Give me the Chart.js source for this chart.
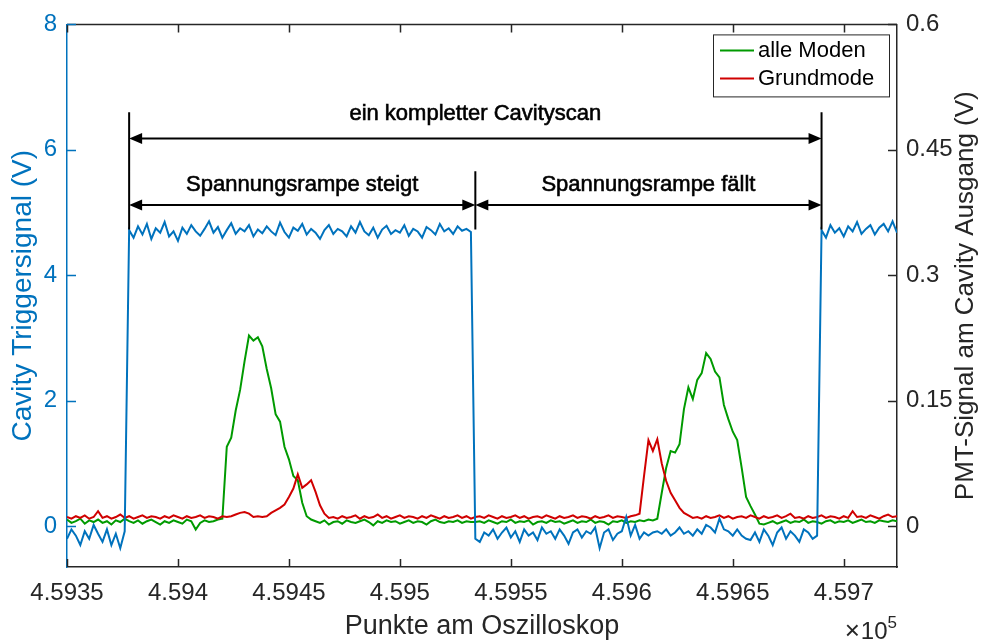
<!DOCTYPE html>
<html>
<head>
<meta charset="utf-8">
<script src="https://cdn.jsdelivr.net/npm/chart.js@4.4.0/dist/chart.umd.min.js"></script>
<style>
html,body{margin:0;padding:0;background:#fff;}
</style>
</head>
<body>
<canvas id="grafica" width="987" height="643"></canvas>
<script>

const FUENTE = '"Liberation Sans", Arial, Helvetica, sans-serif';

/* Abtastpunkte des Oszilloskops */
const xStart = 459350;
const xStep = 2;
const xMin = 459350;
const xMax = 459724;

const xTicks = [459350,459400,459450,459500,459550,459600,459650,459700];
const yLeftTicks = [0,2,4,6,8];
const yRightTicks = [0,0.15,0.3,0.45,0.6];

/* Cavity Triggersignal (V), linke Achse */
const trigger = [
-0.2,-0.05,-0.15,-0.3,-0.08,-0.2,0.02,-0.12,-0.25,-0.05,-0.3,-0.12,-0.35,-0.08,
4.72,4.6,4.78,4.65,4.82,4.58,4.75,4.68,4.85,4.62,
4.7,4.55,4.76,4.66,4.8,4.7,4.63,4.74,4.86,4.68,
4.77,4.6,4.72,4.83,4.66,4.75,4.7,4.8,4.62,4.73,
4.67,4.78,4.7,4.64,4.84,4.69,4.6,4.76,4.71,4.82,
4.65,4.74,4.68,4.58,4.72,4.8,4.66,4.74,4.7,4.62,
4.78,4.68,4.85,4.7,4.64,4.76,4.6,4.73,4.79,4.66,
4.72,4.68,4.8,4.63,4.74,4.7,4.6,4.77,4.72,4.65,
4.82,4.7,4.75,4.66,4.78,4.71,4.74,4.69,
-0.2,-0.25,-0.1,-0.15,-0.05,-0.2,-0.1,-0.02,-0.18,-0.08,
-0.25,-0.05,-0.15,-0.1,-0.22,-0.02,-0.12,-0.08,-0.2,-0.05,
-0.15,-0.28,-0.1,-0.05,-0.18,-0.08,-0.12,-0.02,-0.35,-0.1,
-0.05,-0.22,-0.12,-0.08,0.15,-0.15,0.02,-0.2,-0.1,-0.15,
-0.1,-0.08,-0.12,-0.05,-0.15,-0.1,-0.02,-0.12,-0.08,-0.15,
-0.05,-0.12,0.02,-0.02,-0.1,0.12,-0.05,-0.08,-0.15,-0.05,
-0.15,-0.2,-0.22,-0.1,-0.25,-0.05,-0.15,-0.3,-0.1,-0.02,
-0.2,-0.08,-0.15,-0.25,-0.05,-0.1,-0.2,-0.15,
4.72,4.6,4.8,4.68,4.75,4.62,4.78,4.7,4.85,4.66,
4.74,4.8,4.65,4.76,4.82,4.7,4.86,4.68
];

/* PMT-Signal alle Moden (V), rechte Achse */
const alleModen = [
0.008,0.004,0.006,0.009,0.003,0.007,0.005,0.008,0.004,0.006,
0.002,0.007,0.005,0.009,0.006,0.004,0.007,0.003,0.006,0.008,
0.005,0.002,0.006,0.004,0.007,0.005,0.003,0.008,0.006,-0.004,
0.004,0.007,0.005,0.006,0.008,0.009,
0.095,0.106,0.138,0.163,0.197,0.228,0.222,0.226,0.215,0.188,
0.165,0.134,0.125,0.095,0.08,0.06,0.055,0.028,0.012,0.008,
0.006,0.004,0.007,0.002,0.005,0.006,0.003,0.007,0.005,0.004,
0.006,0.008,0.005,0.001,0.006,0.004,0.007,0.005,0.006,0.003,
0.005,0.007,0.004,0.006,0.005,0.002,0.006,0.008,0.005,0.004,
0.006,0.005,0.007,0.004,0.006,0.005,
0.005,0.006,0.004,0.007,0.005,0.003,0.006,0.005,0.008,0.004,
0.006,0.005,0.007,0.002,0.005,0.006,0.004,0.007,0.005,0.006,
0.003,0.005,0.007,0.004,0.006,0.005,0.008,0.004,0.006,0.005,
0.002,0.006,0.005,0.007,0.004,0.006,0.005,0.007,0.006,0.008,
0.007,0.009,
0.04,0.07,0.09,0.088,0.098,0.14,0.166,0.152,0.175,0.183,
0.207,0.2,0.185,0.178,0.145,0.128,0.113,0.103,0.07,0.035,
0.024,0.014,0.003,0.002,
0.004,0.006,0.003,0.005,0.007,0.004,0.006,0.005,0.008,0.004,
0.006,0.005,0.003,0.006,0.007,0.004,0.006,0.005,0.007,0.004,
0.006,0.008,0.005,0.006,0.004,0.007,0.006,0.005,0.007,0.006
];

/* PMT-Signal Grundmode (V), rechte Achse */
const grundmode = [
0.011,0.009,0.012,0.010,0.013,0.009,0.011,0.018,0.010,0.012,
0.009,0.011,0.014,0.010,0.012,0.009,0.011,0.013,0.010,0.012,
0.011,0.009,0.012,0.010,0.013,0.011,0.009,0.012,0.010,0.011,
0.013,0.010,0.012,0.011,0.009,0.012,0.011,0.012,0.014,0.016,
0.017,0.015,0.011,0.012,0.011,
0.012,0.016,0.019,0.022,0.026,0.035,0.045,0.062,0.046,0.05,
0.055,0.041,0.025,0.015,0.010,
0.011,0.009,0.012,0.010,0.011,0.013,0.009,0.012,0.010,0.011,
0.014,0.010,0.012,0.009,0.011,0.013,0.010,0.012,0.011,0.009,
0.012,0.010,0.013,0.011,0.009,0.012,0.010,0.011,0.013,0.010,
0.012,0.009,0.011,0.012,0.010,0.013,0.011,0.009,0.012,0.010,
0.011,0.013,0.010,0.012,0.009,0.011,0.012,0.010,0.013,0.011,
0.009,0.012,0.010,0.011,0.013,0.010,0.012,0.011,0.009,0.012,
0.010,0.011,0.013,0.010,0.012,0.011,0.010,0.012,0.013,
0.015,0.06,0.103,0.09,0.104,0.075,0.054,0.04,0.031,0.022,
0.016,0.013,0.010,
0.011,0.009,0.012,0.010,0.011,0.013,0.010,0.012,0.009,0.011,
0.012,0.010,0.013,0.011,0.009,0.012,0.010,0.011,0.013,0.010,
0.012,0.015,0.010,0.011,0.009,0.012,0.010,0.011,0.013,0.010,
0.012,0.011,0.009,0.012,0.010,0.018,0.011,0.012,0.010,0.013,
0.011,0.009,0.012,0.014,0.011,0.012
];

/* Flanken des Triggersignals und Beschriftungen (linke Achse) */
const flanken = [459378, 459534, 459690];
const textScan = "ein kompletter Cavityscan";
const textSteigt = "Spannungsrampe steigt";
const textFaellt = "Spannungsrampe fällt";

const legendeTexte = ["alle Moden","Grundmode"];
const tituloDerecha = "PMT-Signal am Cavity Ausgang (V)";

const AZUL = "#0072BD";
const VERDE = "#009A00";
const ROJO = "#D00000";
const GRIS = "#262626";


function puntos(valores){
return valores.map((v,i)=>({x:xStart+i*xStep,y:v}));
}


function flecha(ctx,x1,x2,y){

const largo = 13;
const media = 5.5;

ctx.beginPath();
ctx.moveTo(x1+largo-1,y);
ctx.lineTo(x2-largo+1,y);
ctx.stroke();

ctx.beginPath();
ctx.moveTo(x1,y);
ctx.lineTo(x1+largo,y-media);
ctx.lineTo(x1+largo,y+media);
ctx.closePath();
ctx.fill();

ctx.beginPath();
ctx.moveTo(x2,y);
ctx.lineTo(x2-largo,y-media);
ctx.lineTo(x2-largo,y+media);
ctx.closePath();
ctx.fill();

}


function textoGrueso(ctx,texto,x,y){
ctx.fillText(texto,x,y);
ctx.strokeText(texto,x,y);
}


const anotaciones = {
id:"anotaciones",
afterDatasetsDraw(chart){

const ctx = chart.ctx;
const x = chart.scales.x;
const y = chart.scales.yL;

const [a,b,c] = flanken.map(v=>x.getPixelForValue(v));

ctx.save();
ctx.strokeStyle = "#000";
ctx.fillStyle = "#000";
ctx.lineWidth = 2;

ctx.beginPath();
ctx.moveTo(a,y.getPixelForValue(6.6));
ctx.lineTo(a,y.getPixelForValue(4.73));
ctx.moveTo(c,y.getPixelForValue(6.6));
ctx.lineTo(c,y.getPixelForValue(4.73));
ctx.moveTo(b,y.getPixelForValue(5.66));
ctx.lineTo(b,y.getPixelForValue(4.73));
ctx.stroke();

flecha(ctx,a,c,y.getPixelForValue(6.18));
flecha(ctx,a,b,y.getPixelForValue(5.12));
flecha(ctx,b,c,y.getPixelForValue(5.12));

ctx.font = "22px " + FUENTE;
ctx.lineWidth = 0.6;
ctx.textAlign = "center";
ctx.textBaseline = "alphabetic";
textoGrueso(ctx,textScan,(a+c)/2,y.getPixelForValue(6.48));
textoGrueso(ctx,textSteigt,(a+b)/2,y.getPixelForValue(5.34));
textoGrueso(ctx,textFaellt,(b+c)/2,y.getPixelForValue(5.34));

ctx.restore();

},

afterDraw(chart){

const ctx = chart.ctx;
const area = chart.chartArea;
const x = chart.scales.x;
const yL = chart.scales.yL;
const yR = chart.scales.yR;

ctx.save();

/* obere Rahmenlinie */
ctx.strokeStyle = GRIS;
ctx.lineWidth = 1.5;
ctx.beginPath();
ctx.moveTo(area.left,area.top);
ctx.lineTo(area.right,area.top);
ctx.stroke();

/* Ticks nach innen */
ctx.beginPath();
xTicks.forEach(v=>{
const px = Math.round(x.getPixelForValue(v))+0.5;
ctx.moveTo(px,area.bottom);
ctx.lineTo(px,area.bottom-8);
ctx.moveTo(px,area.top);
ctx.lineTo(px,area.top+8);
});
yRightTicks.forEach(v=>{
const py = Math.round(yR.getPixelForValue(v))+0.5;
ctx.moveTo(area.right,py);
ctx.lineTo(area.right-9,py);
});
ctx.stroke();

ctx.strokeStyle = AZUL;
ctx.beginPath();
yLeftTicks.forEach(v=>{
const py = Math.round(yL.getPixelForValue(v))+0.5;
ctx.moveTo(area.left,py);
ctx.lineTo(area.left+9,py);
});
ctx.stroke();

/* Titel der rechten Achse, von unten nach oben gelesen */
ctx.save();
ctx.translate(966,(area.top+area.bottom)/2);
ctx.rotate(-Math.PI/2);
ctx.fillStyle = GRIS;
ctx.font = "26px " + FUENTE;
ctx.textAlign = "center";
ctx.textBaseline = "middle";
ctx.fillText(tituloDerecha,0,0);
ctx.restore();

/* Legende */
const lx = area.right-184;
const ly = area.top+10;
ctx.fillStyle = "#fff";
ctx.fillRect(lx,ly,176,62);
ctx.strokeStyle = GRIS;
ctx.lineWidth = 1;
ctx.strokeRect(lx+0.5,ly+0.5,176,62);

ctx.lineWidth = 2;
ctx.font = "22px " + FUENTE;
ctx.textAlign = "left";
ctx.textBaseline = "middle";
[VERDE,ROJO].forEach((col,i)=>{
const yy = ly+16+i*28;
ctx.strokeStyle = col;
ctx.beginPath();
ctx.moveTo(lx+7,yy);
ctx.lineTo(lx+41,yy);
ctx.stroke();
ctx.fillStyle = "#000";
ctx.fillText(legendeTexte[i],lx+45,yy+1);
});

/* Exponent der x-Achse */
ctx.fillStyle = GRIS;
ctx.textBaseline = "alphabetic";
ctx.textAlign = "right";
ctx.font = "17px " + FUENTE;
const w5 = ctx.measureText("5").width;
ctx.fillText("5",area.right,628);
ctx.font = "24px " + FUENTE;
const w10 = ctx.measureText("10").width;
ctx.fillText("10",area.right-w5,639);
ctx.font = "26px " + FUENTE;
ctx.fillText("\u00d7",area.right-w5-w10-1,639);

ctx.restore();

}
};


new Chart(document.getElementById("grafica"),{
type:"line",
data:{
datasets:[
{
label:"Cavity Triggersignal",
data:puntos(trigger),
yAxisID:"yL",
borderColor:AZUL,
borderWidth:2,
pointRadius:0,
tension:0
},
{
label:"Grundmode",
data:puntos(grundmode),
yAxisID:"yR",
borderColor:ROJO,
borderWidth:2,
pointRadius:0,
tension:0
},
{
label:"alle Moden",
data:puntos(alleModen),
yAxisID:"yR",
borderColor:VERDE,
borderWidth:2,
pointRadius:0,
tension:0
}
]
},
options:{
responsive:false,
animation:false,
devicePixelRatio:1,
layout:{padding:{top:14,left:0,right:0,bottom:0}},
plugins:{
legend:{display:false},
tooltip:{enabled:false}
},
scales:{
x:{
type:"linear",
min:xMin,
max:xMax,
afterBuildTicks:s=>{s.ticks = xTicks.map(v=>({value:v}));},
afterFit:s=>{s.height = 76;},
grid:{display:false,drawTicks:false},
border:{display:true,color:GRIS,width:1.5},
ticks:{
color:GRIS,
font:{family:FUENTE,size:24},
padding:12,
maxRotation:0,
autoSkip:false,
callback:v=>String(+(v/1e5).toFixed(5))
},
title:{
display:true,
text:"Punkte am Oszilloskop",
color:GRIS,
font:{family:FUENTE,size:27},
padding:{top:0,bottom:0}
}
},
yL:{
type:"linear",
position:"left",
min:-0.65,
max:8,
afterBuildTicks:s=>{s.ticks = yLeftTicks.map(v=>({value:v}));},
afterFit:s=>{s.width = 67;},
grid:{display:false,drawTicks:false},
border:{display:true,color:AZUL,width:1.5},
ticks:{
color:AZUL,
font:{family:FUENTE,size:24},
padding:10,
callback:v=>String(v)
},
title:{
display:true,
text:"Cavity Triggersignal (V)",
color:AZUL,
font:{family:FUENTE,size:28},
padding:{top:6,bottom:0}
}
},
yR:{
type:"linear",
position:"right",
min:-0.04875,
max:0.6,
afterBuildTicks:s=>{s.ticks = yRightTicks.map(v=>({value:v}));},
afterFit:s=>{s.width = 90;},
grid:{display:false,drawTicks:false},
border:{display:true,color:GRIS,width:1.5},
ticks:{
color:GRIS,
font:{family:FUENTE,size:24},
padding:9,
callback:v=>String(v)
},
title:{display:false}
}
}
},
plugins:[anotaciones]
});

</script>
</body>
</html>
